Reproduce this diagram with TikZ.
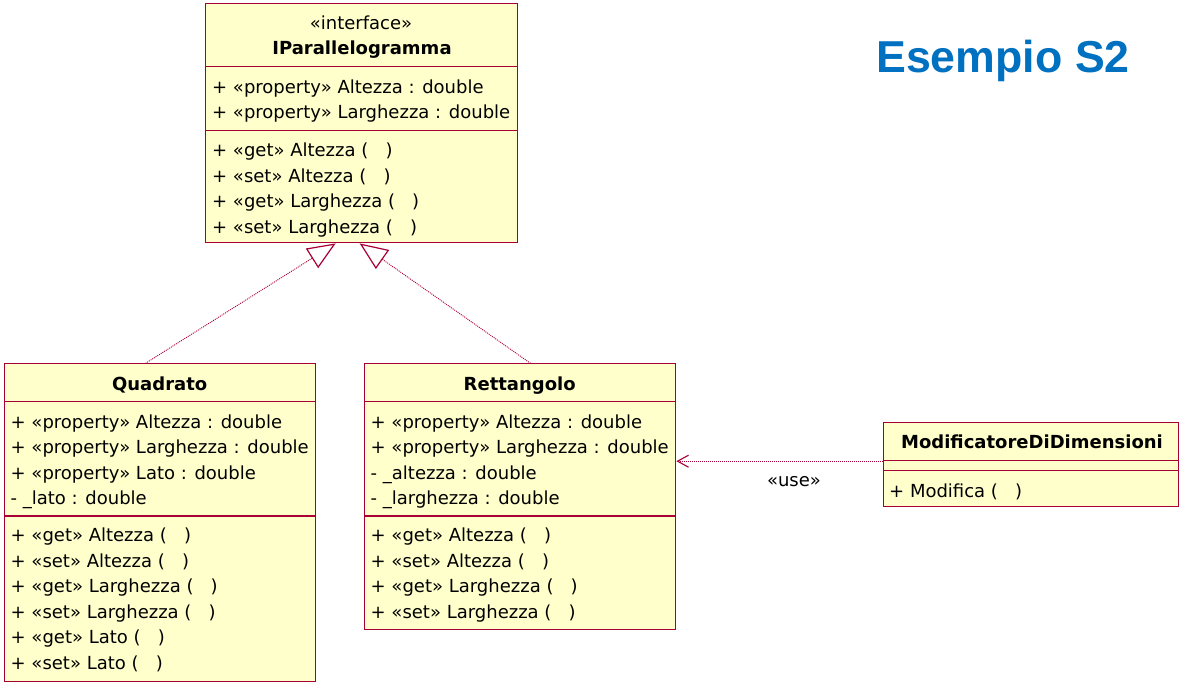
\documentclass[tikz,border=0pt]{standalone}
\usepackage{fontspec}
\setmainfont{DejaVu Sans}
\newfontfamily\headfont{Liberation Sans}
\usepackage{tikz}
\usetikzlibrary{arrows.meta,positioning}
\definecolor{umlred}{RGB}{168,0,52}
\definecolor{umlfill}{RGB}{255,255,204}
\definecolor{headblue}{RGB}{0,112,192}

\begin{document}
\begin{tikzpicture}[x=1pt,y=-1pt]
        %
        % `classbox' is the frame of every class, `divider' splits it.
        % `member' is one line of text, `cname' the class name.
        % `realize' and `usedep' are the two kinds of connectors.
        \tikzstyle{classbox} = [draw=umlred,fill=umlfill,line width=1.1pt,inner sep=0pt,anchor=north west]
        \tikzstyle{divider} = [draw=umlred,line width=1.1pt]
        \tikzstyle{member} = [inner sep=0pt,anchor=base west,font=\fontsize{18}{22}\selectfont]
        \tikzstyle{stereo} = [inner sep=0pt,anchor=base,font=\fontsize{18}{22}\selectfont]
        \tikzstyle{cname} = [inner sep=0pt,anchor=base,font=\bfseries\fontsize{18}{22}\selectfont]
        \tikzstyle{realize} = [draw=umlred,line width=0.9pt,dash pattern=on 1pt off 1pt,-{Triangle[open,length=28pt,width=23pt,line width=1.2pt]}]
        \tikzstyle{usedep} = [draw=umlred,line width=0.9pt,dash pattern=on 1pt off 1pt,-{Straight Barb[length=11pt,width=12pt,line width=1.1pt]}]
        %
        \useasboundingbox (0,0) rectangle (1185,685);
        %
        % Heading
        \node[inner sep=0pt,anchor=base,text=headblue,font=\headfont\bfseries\fontsize{44.7}{50}\selectfont] (heading) at (1003,72.7) {Esempio S2};
        %
        % Interface
        \node[classbox,minimum width=311.4,minimum height=239] (ipar) at (205.3,3.3) {};
        \draw[divider] (205.3,66.7) -- (516.7,66.7);
        \draw[divider] (205.3,130.7) -- (516.7,130.7);
        \node[stereo] (ipar-st) at (361,30) {«interface»};
        \node[cname] (ipar-name) at (362,55) {IParallelogramma};
        \node[member] (ipar-a1) at (212,93.3) {+ «property» Altezza : double};
        \node[member] (ipar-a2) at (212,118.8) {+ «property» Larghezza : double};
        \node[member] (ipar-m1) at (212,156.7) {+ «get» Altezza (\ \ \ )};
        \node[member] (ipar-m2) at (212,182.2) {+ «set» Altezza (\ \ \ )};
        \node[member] (ipar-m3) at (212,207.7) {+ «get» Larghezza (\ \ \ )};
        \node[member] (ipar-m4) at (212,233.2) {+ «set» Larghezza (\ \ \ )};
        %
        % Quadrato
        \node[classbox,minimum width=311.3,minimum height=317.4] (quad) at (4,363.3) {};
        \draw[divider] (4,401.7) -- (315.3,401.7);
        \draw[divider] (4,516) -- (315.3,516);
        \node[cname] (quad-name) at (159.7,390) {Quadrato};
        \node[member] (quad-a1) at (10.5,428.3) {+ «property» Altezza : double};
        \node[member] (quad-a2) at (10.5,453.8) {+ «property» Larghezza : double};
        \node[member] (quad-a3) at (10.5,479.3) {+ «property» Lato : double};
        \node[member] (quad-a4) at (10.5,504.8) {- \_lato : double};
        \node[member] (quad-m1) at (10.5,541.7) {+ «get» Altezza (\ \ \ )};
        \node[member] (quad-m2) at (10.5,567.2) {+ «set» Altezza (\ \ \ )};
        \node[member] (quad-m3) at (10.5,592.7) {+ «get» Larghezza (\ \ \ )};
        \node[member] (quad-m4) at (10.5,618.2) {+ «set» Larghezza (\ \ \ )};
        \node[member] (quad-m5) at (10.5,643.7) {+ «get» Lato (\ \ \ )};
        \node[member] (quad-m6) at (10.5,669.2) {+ «set» Lato (\ \ \ )};
        %
        % Rettangolo
        \node[classbox,minimum width=311.3,minimum height=265.7] (rett) at (364,363.3) {};
        \draw[divider] (364,401.7) -- (675.3,401.7);
        \draw[divider] (364,516) -- (675.3,516);
        \node[cname] (rett-name) at (519.7,390) {Rettangolo};
        \node[member] (rett-a1) at (370.5,428.3) {+ «property» Altezza : double};
        \node[member] (rett-a2) at (370.5,453.8) {+ «property» Larghezza : double};
        \node[member] (rett-a3) at (370.5,479.3) {- \_altezza : double};
        \node[member] (rett-a4) at (370.5,504.8) {- \_larghezza : double};
        \node[member] (rett-m1) at (370.5,541.7) {+ «get» Altezza (\ \ \ )};
        \node[member] (rett-m2) at (370.5,567.2) {+ «set» Altezza (\ \ \ )};
        \node[member] (rett-m3) at (370.5,592.7) {+ «get» Larghezza (\ \ \ )};
        \node[member] (rett-m4) at (370.5,618.2) {+ «set» Larghezza (\ \ \ )};
        %
        % ModificatoreDiDimensioni
        \node[classbox,minimum width=295,minimum height=83.7] (modif) at (882.7,422.3) {};
        \draw[divider] (882.7,460.7) -- (1177.7,460.7);
        \draw[divider] (882.7,470.7) -- (1177.7,470.7);
        \node[cname] (modif-name) at (1032,448.3) {ModificatoreDiDimensioni};
        \node[member] (modif-m1) at (889,497.3) {+ Modifica (\ \ \ )};
        %
        % Realizations
        \draw[realize] ([xshift=-14.7pt]quad.north) -- ([xshift=-25.9pt]ipar.south);
        \draw[realize] ([xshift=10.3pt]rett.north) -- ([xshift=-1.9pt]ipar.south);
        %
        % Dependency
        \coordinate (usept) at ([yshift=3.5pt]modif.west);
        \draw[usedep] (usept) -- (usept -| rett.east);
        \node[stereo] (uselbl) at (794,486) {«use»};
        %
\end{tikzpicture}
\end{document}
